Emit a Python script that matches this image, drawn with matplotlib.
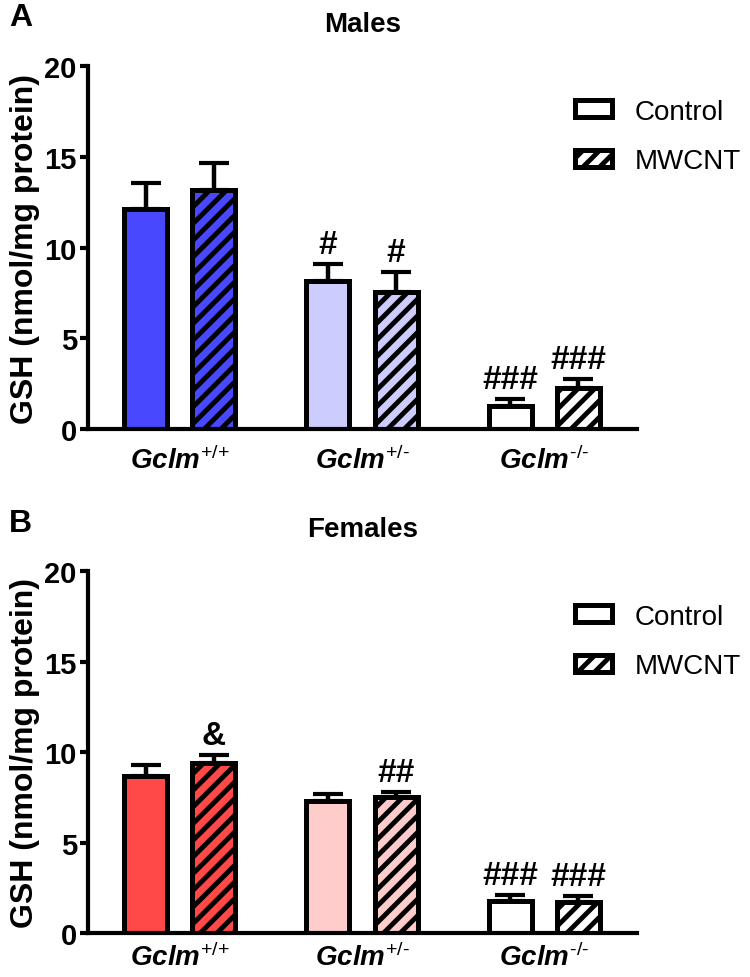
import numpy as np
import matplotlib
matplotlib.use("Agg")
import matplotlib.pyplot as plt
from matplotlib.patches import Patch

plt.rcParams["font.family"] = ["Liberation Sans", "DejaVu Sans"]
plt.rcParams["mathtext.fontset"] = "custom"
plt.rcParams["mathtext.it"] = "Liberation Sans:italic:bold"
plt.rcParams["mathtext.rm"] = "Liberation Sans"
plt.rcParams["mathtext.bf"] = "Liberation Sans:bold"
plt.rcParams["hatch.linewidth"] = 3.5

# genotype groups, each with Control / MWCNT bars
genotypes = [r"$\mathit{Gclm}^{\text{+/+}}$", r"$\mathit{Gclm}^{\text{+/-}}$",
             r"$\mathit{Gclm}^{\text{-/-}}$"]
treatments = ["Control", "MWCNT"]

# males: [ctrl, mwcnt] per genotype
male_mean = [[12.12, 13.17], [8.15, 7.55], [1.27, 2.26]]
male_sem = [[1.43, 1.48], [0.94, 1.10], [0.38, 0.49]]
male_marks = [["", ""], ["#", "#"], ["###", "###"]]

# females
female_mean = [[8.65, 9.42], [7.27, 7.49], [1.77, 1.70]]
female_sem = [[0.61, 0.39], [0.39, 0.28], [0.33, 0.33]]
female_marks = [["", "&"], ["", "##"], ["###", "###"]]

COLORS = {
    "male": ["#4848FF", "#CCCCFF", "#FFFFFF"],
    "female": ["#FF4848", "#FFCCCC", "#FFFFFF"],
}

LW = 3.6
OFFSET = 0.187
WIDTH = 0.236


def draw_panel(ax, means, sems, marks, colors, title, xpad):
    for g in range(len(genotypes)):
        for t, name in enumerate(treatments):
            x = g + (-OFFSET if t == 0 else OFFSET)
            m = means[g][t]
            s = sems[g][t]
            ax.errorbar(x, m, yerr=[[0], [s]], fmt="none", ecolor="black",
                        elinewidth=3.2, capsize=11, capthick=3, zorder=1)
            ax.bar(x, m, width=WIDTH, color=colors[g], edgecolor="black",
                   linewidth=LW, hatch="//" if t == 1 else None, zorder=2)
            if marks[g][t]:
                ax.annotate(marks[g][t], (x, m + s), xytext=(0, 3),
                            textcoords="offset points", ha="center", va="bottom",
                            fontsize=24, fontweight="bold")

    ax.set_xlim(-0.505, 2.51)
    ax.set_ylim(0, 20)
    ax.set_yticks([0, 5, 10, 15, 20])
    ax.set_xticks(range(len(genotypes)))
    ax.set_xticklabels(genotypes, fontsize=20)
    ax.tick_params(axis="x", length=0, pad=xpad)
    ax.tick_params(axis="y", length=6, width=3, pad=2, labelsize=21)
    for lab in ax.get_yticklabels():
        lab.set_fontweight("bold")
    for side in ["top", "right"]:
        ax.spines[side].set_visible(False)
    for side in ["left", "bottom"]:
        ax.spines[side].set_linewidth(3)
    ax.set_ylabel("GSH (nmol/mg protein)", fontsize=23, fontweight="bold", labelpad=3)
    ax.set_title(title, fontsize=20, fontweight="bold", pad=25)

    handles = [
        Patch(facecolor="white", edgecolor="black", linewidth=LW, label=treatments[0]),
        Patch(facecolor="white", edgecolor="black", linewidth=LW, hatch="//", label=treatments[1]),
    ]
    ax.legend(handles=handles, loc="upper left", bbox_to_anchor=(0.887, 0.91),
              frameon=False, fontsize=20, handlelength=1.35, handleheight=0.55,
              handletextpad=0.8, labelspacing=0.85, borderpad=0, borderaxespad=0)


fig = plt.figure(figsize=(7.5, 9.78), dpi=100)
ax_a = fig.add_axes([0.1173, 0.5603, 0.732, 0.3712])
ax_b = fig.add_axes([0.1173, 0.0450, 0.732, 0.3701])

draw_panel(ax_a, male_mean, male_sem, male_marks, COLORS["male"], "Males", 12)
draw_panel(ax_b, female_mean, female_sem, female_marks, COLORS["female"], "Females", 7)

fig.text(0.012, 0.982, "A", fontsize=23, fontweight="bold", va="center", ha="left")
fig.text(0.012, 0.464, "B", fontsize=23, fontweight="bold", va="center", ha="left")

fig.savefig("out.png", dpi=100)
